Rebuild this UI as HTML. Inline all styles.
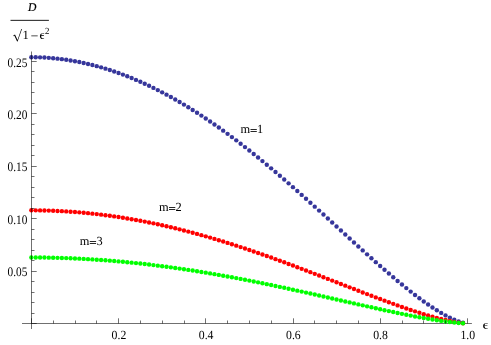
<!DOCTYPE html>
<html><head><meta charset="utf-8"><title>plot</title>
<style>html,body{margin:0;padding:0;background:#fff;overflow:hidden}svg{display:block;will-change:transform}text{font-family:"Liberation Serif",serif;fill:#000;text-rendering:geometricPrecision}</style></head><body>
<svg width="491" height="345" viewBox="0 0 491 345">
<rect width="491" height="345" fill="#fff"/>
<line x1="22" y1="323.5" x2="471.9" y2="323.5" stroke="#000" stroke-opacity="0.56" stroke-width="1"/>
<g fill="#36369b">
<circle cx="31.35" cy="57.20" r="2.2"/>
<circle cx="35.71" cy="57.24" r="2.2"/>
<circle cx="40.07" cy="57.36" r="2.2"/>
<circle cx="44.43" cy="57.56" r="2.2"/>
<circle cx="48.79" cy="57.84" r="2.2"/>
<circle cx="53.15" cy="58.20" r="2.2"/>
<circle cx="57.51" cy="58.64" r="2.2"/>
<circle cx="61.87" cy="59.16" r="2.2"/>
<circle cx="66.23" cy="59.76" r="2.2"/>
<circle cx="70.59" cy="60.43" r="2.2"/>
<circle cx="74.95" cy="61.19" r="2.2"/>
<circle cx="79.31" cy="62.02" r="2.2"/>
<circle cx="83.67" cy="62.93" r="2.2"/>
<circle cx="88.03" cy="63.93" r="2.2"/>
<circle cx="92.39" cy="64.99" r="2.2"/>
<circle cx="96.75" cy="66.14" r="2.2"/>
<circle cx="101.11" cy="67.36" r="2.2"/>
<circle cx="105.47" cy="68.66" r="2.2"/>
<circle cx="109.83" cy="70.04" r="2.2"/>
<circle cx="114.19" cy="71.49" r="2.2"/>
<circle cx="118.55" cy="73.02" r="2.2"/>
<circle cx="122.91" cy="74.62" r="2.2"/>
<circle cx="127.27" cy="76.30" r="2.2"/>
<circle cx="131.63" cy="78.05" r="2.2"/>
<circle cx="135.99" cy="79.88" r="2.2"/>
<circle cx="140.35" cy="81.77" r="2.2"/>
<circle cx="144.71" cy="83.74" r="2.2"/>
<circle cx="149.07" cy="85.79" r="2.2"/>
<circle cx="153.43" cy="87.90" r="2.2"/>
<circle cx="157.79" cy="90.08" r="2.2"/>
<circle cx="162.15" cy="92.33" r="2.2"/>
<circle cx="166.51" cy="94.65" r="2.2"/>
<circle cx="170.87" cy="97.04" r="2.2"/>
<circle cx="175.23" cy="99.50" r="2.2"/>
<circle cx="179.59" cy="102.02" r="2.2"/>
<circle cx="183.95" cy="104.60" r="2.2"/>
<circle cx="188.31" cy="107.26" r="2.2"/>
<circle cx="192.67" cy="109.97" r="2.2"/>
<circle cx="197.03" cy="112.75" r="2.2"/>
<circle cx="201.39" cy="115.59" r="2.2"/>
<circle cx="205.75" cy="118.49" r="2.2"/>
<circle cx="210.11" cy="121.44" r="2.2"/>
<circle cx="214.47" cy="124.46" r="2.2"/>
<circle cx="218.83" cy="127.53" r="2.2"/>
<circle cx="223.19" cy="130.66" r="2.2"/>
<circle cx="227.55" cy="133.85" r="2.2"/>
<circle cx="231.91" cy="137.08" r="2.2"/>
<circle cx="236.27" cy="140.37" r="2.2"/>
<circle cx="240.63" cy="143.71" r="2.2"/>
<circle cx="244.99" cy="147.10" r="2.2"/>
<circle cx="249.35" cy="150.54" r="2.2"/>
<circle cx="253.71" cy="154.02" r="2.2"/>
<circle cx="258.07" cy="157.54" r="2.2"/>
<circle cx="262.43" cy="161.11" r="2.2"/>
<circle cx="266.79" cy="164.72" r="2.2"/>
<circle cx="271.15" cy="168.37" r="2.2"/>
<circle cx="275.51" cy="172.06" r="2.2"/>
<circle cx="279.87" cy="175.79" r="2.2"/>
<circle cx="284.23" cy="179.55" r="2.2"/>
<circle cx="288.59" cy="183.34" r="2.2"/>
<circle cx="292.95" cy="187.16" r="2.2"/>
<circle cx="297.31" cy="191.00" r="2.2"/>
<circle cx="301.67" cy="194.88" r="2.2"/>
<circle cx="306.03" cy="198.78" r="2.2"/>
<circle cx="310.39" cy="202.69" r="2.2"/>
<circle cx="314.75" cy="206.63" r="2.2"/>
<circle cx="319.11" cy="210.59" r="2.2"/>
<circle cx="323.47" cy="214.55" r="2.2"/>
<circle cx="327.83" cy="218.53" r="2.2"/>
<circle cx="332.19" cy="222.52" r="2.2"/>
<circle cx="336.55" cy="226.51" r="2.2"/>
<circle cx="340.91" cy="230.51" r="2.2"/>
<circle cx="345.27" cy="234.50" r="2.2"/>
<circle cx="349.63" cy="238.49" r="2.2"/>
<circle cx="353.99" cy="242.47" r="2.2"/>
<circle cx="358.35" cy="246.44" r="2.2"/>
<circle cx="362.71" cy="250.39" r="2.2"/>
<circle cx="367.07" cy="254.33" r="2.2"/>
<circle cx="371.43" cy="258.24" r="2.2"/>
<circle cx="375.79" cy="262.13" r="2.2"/>
<circle cx="380.15" cy="265.98" r="2.2"/>
<circle cx="384.51" cy="269.80" r="2.2"/>
<circle cx="388.87" cy="273.57" r="2.2"/>
<circle cx="393.23" cy="277.29" r="2.2"/>
<circle cx="397.59" cy="280.96" r="2.2"/>
<circle cx="401.95" cy="284.57" r="2.2"/>
<circle cx="406.31" cy="288.11" r="2.2"/>
<circle cx="410.67" cy="291.58" r="2.2"/>
<circle cx="415.03" cy="294.97" r="2.2"/>
<circle cx="419.39" cy="298.26" r="2.2"/>
<circle cx="423.75" cy="301.45" r="2.2"/>
<circle cx="428.11" cy="304.52" r="2.2"/>
<circle cx="432.47" cy="307.47" r="2.2"/>
<circle cx="436.83" cy="310.28" r="2.2"/>
<circle cx="441.19" cy="312.92" r="2.2"/>
<circle cx="445.55" cy="315.39" r="2.2"/>
<circle cx="449.91" cy="317.65" r="2.2"/>
<circle cx="454.27" cy="319.67" r="2.2"/>
<circle cx="458.63" cy="321.40" r="2.2"/>
<circle cx="462.99" cy="322.75" r="2.2"/>
</g>
<g fill="#ff0000">
<circle cx="31.35" cy="210.32" r="2.2"/>
<circle cx="35.71" cy="210.33" r="2.2"/>
<circle cx="40.07" cy="210.38" r="2.2"/>
<circle cx="44.43" cy="210.47" r="2.2"/>
<circle cx="48.79" cy="210.59" r="2.2"/>
<circle cx="53.15" cy="210.74" r="2.2"/>
<circle cx="57.51" cy="210.93" r="2.2"/>
<circle cx="61.87" cy="211.15" r="2.2"/>
<circle cx="66.23" cy="211.40" r="2.2"/>
<circle cx="70.59" cy="211.69" r="2.2"/>
<circle cx="74.95" cy="212.01" r="2.2"/>
<circle cx="79.31" cy="212.36" r="2.2"/>
<circle cx="83.67" cy="212.75" r="2.2"/>
<circle cx="88.03" cy="213.17" r="2.2"/>
<circle cx="92.39" cy="213.63" r="2.2"/>
<circle cx="96.75" cy="214.11" r="2.2"/>
<circle cx="101.11" cy="214.63" r="2.2"/>
<circle cx="105.47" cy="215.19" r="2.2"/>
<circle cx="109.83" cy="215.77" r="2.2"/>
<circle cx="114.19" cy="216.39" r="2.2"/>
<circle cx="118.55" cy="217.04" r="2.2"/>
<circle cx="122.91" cy="217.72" r="2.2"/>
<circle cx="127.27" cy="218.43" r="2.2"/>
<circle cx="131.63" cy="219.18" r="2.2"/>
<circle cx="135.99" cy="219.95" r="2.2"/>
<circle cx="140.35" cy="220.76" r="2.2"/>
<circle cx="144.71" cy="221.60" r="2.2"/>
<circle cx="149.07" cy="222.46" r="2.2"/>
<circle cx="153.43" cy="223.36" r="2.2"/>
<circle cx="157.79" cy="224.29" r="2.2"/>
<circle cx="162.15" cy="225.25" r="2.2"/>
<circle cx="166.51" cy="226.23" r="2.2"/>
<circle cx="170.87" cy="227.25" r="2.2"/>
<circle cx="175.23" cy="228.29" r="2.2"/>
<circle cx="179.59" cy="229.36" r="2.2"/>
<circle cx="183.95" cy="230.46" r="2.2"/>
<circle cx="188.31" cy="231.59" r="2.2"/>
<circle cx="192.67" cy="232.74" r="2.2"/>
<circle cx="197.03" cy="233.92" r="2.2"/>
<circle cx="201.39" cy="235.13" r="2.2"/>
<circle cx="205.75" cy="236.36" r="2.2"/>
<circle cx="210.11" cy="237.62" r="2.2"/>
<circle cx="214.47" cy="238.90" r="2.2"/>
<circle cx="218.83" cy="240.21" r="2.2"/>
<circle cx="223.19" cy="241.54" r="2.2"/>
<circle cx="227.55" cy="242.89" r="2.2"/>
<circle cx="231.91" cy="244.27" r="2.2"/>
<circle cx="236.27" cy="245.67" r="2.2"/>
<circle cx="240.63" cy="247.08" r="2.2"/>
<circle cx="244.99" cy="248.52" r="2.2"/>
<circle cx="249.35" cy="249.98" r="2.2"/>
<circle cx="253.71" cy="251.46" r="2.2"/>
<circle cx="258.07" cy="252.96" r="2.2"/>
<circle cx="262.43" cy="254.48" r="2.2"/>
<circle cx="266.79" cy="256.02" r="2.2"/>
<circle cx="271.15" cy="257.57" r="2.2"/>
<circle cx="275.51" cy="259.13" r="2.2"/>
<circle cx="279.87" cy="260.72" r="2.2"/>
<circle cx="284.23" cy="262.32" r="2.2"/>
<circle cx="288.59" cy="263.93" r="2.2"/>
<circle cx="292.95" cy="265.55" r="2.2"/>
<circle cx="297.31" cy="267.19" r="2.2"/>
<circle cx="301.67" cy="268.83" r="2.2"/>
<circle cx="306.03" cy="270.49" r="2.2"/>
<circle cx="310.39" cy="272.15" r="2.2"/>
<circle cx="314.75" cy="273.83" r="2.2"/>
<circle cx="319.11" cy="275.51" r="2.2"/>
<circle cx="323.47" cy="277.19" r="2.2"/>
<circle cx="327.83" cy="278.89" r="2.2"/>
<circle cx="332.19" cy="280.58" r="2.2"/>
<circle cx="336.55" cy="282.28" r="2.2"/>
<circle cx="340.91" cy="283.97" r="2.2"/>
<circle cx="345.27" cy="285.67" r="2.2"/>
<circle cx="349.63" cy="287.37" r="2.2"/>
<circle cx="353.99" cy="289.06" r="2.2"/>
<circle cx="358.35" cy="290.75" r="2.2"/>
<circle cx="362.71" cy="292.43" r="2.2"/>
<circle cx="367.07" cy="294.10" r="2.2"/>
<circle cx="371.43" cy="295.76" r="2.2"/>
<circle cx="375.79" cy="297.41" r="2.2"/>
<circle cx="380.15" cy="299.05" r="2.2"/>
<circle cx="384.51" cy="300.67" r="2.2"/>
<circle cx="388.87" cy="302.28" r="2.2"/>
<circle cx="393.23" cy="303.86" r="2.2"/>
<circle cx="397.59" cy="305.42" r="2.2"/>
<circle cx="401.95" cy="306.95" r="2.2"/>
<circle cx="406.31" cy="308.46" r="2.2"/>
<circle cx="410.67" cy="309.93" r="2.2"/>
<circle cx="415.03" cy="311.37" r="2.2"/>
<circle cx="419.39" cy="312.77" r="2.2"/>
<circle cx="423.75" cy="314.13" r="2.2"/>
<circle cx="428.11" cy="315.43" r="2.2"/>
<circle cx="432.47" cy="316.69" r="2.2"/>
<circle cx="436.83" cy="317.88" r="2.2"/>
<circle cx="441.19" cy="319.01" r="2.2"/>
<circle cx="445.55" cy="320.05" r="2.2"/>
<circle cx="449.91" cy="321.02" r="2.2"/>
<circle cx="454.27" cy="321.87" r="2.2"/>
<circle cx="458.63" cy="322.61" r="2.2"/>
<circle cx="462.99" cy="323.18" r="2.2"/>
</g>
<g fill="#00ff00">
<circle cx="31.35" cy="257.48" r="2.2"/>
<circle cx="35.71" cy="257.49" r="2.2"/>
<circle cx="40.07" cy="257.52" r="2.2"/>
<circle cx="44.43" cy="257.57" r="2.2"/>
<circle cx="48.79" cy="257.63" r="2.2"/>
<circle cx="53.15" cy="257.72" r="2.2"/>
<circle cx="57.51" cy="257.83" r="2.2"/>
<circle cx="61.87" cy="257.96" r="2.2"/>
<circle cx="66.23" cy="258.11" r="2.2"/>
<circle cx="70.59" cy="258.28" r="2.2"/>
<circle cx="74.95" cy="258.46" r="2.2"/>
<circle cx="79.31" cy="258.67" r="2.2"/>
<circle cx="83.67" cy="258.90" r="2.2"/>
<circle cx="88.03" cy="259.14" r="2.2"/>
<circle cx="92.39" cy="259.41" r="2.2"/>
<circle cx="96.75" cy="259.69" r="2.2"/>
<circle cx="101.11" cy="260.00" r="2.2"/>
<circle cx="105.47" cy="260.32" r="2.2"/>
<circle cx="109.83" cy="260.66" r="2.2"/>
<circle cx="114.19" cy="261.02" r="2.2"/>
<circle cx="118.55" cy="261.40" r="2.2"/>
<circle cx="122.91" cy="261.79" r="2.2"/>
<circle cx="127.27" cy="262.21" r="2.2"/>
<circle cx="131.63" cy="262.65" r="2.2"/>
<circle cx="135.99" cy="263.10" r="2.2"/>
<circle cx="140.35" cy="263.57" r="2.2"/>
<circle cx="144.71" cy="264.06" r="2.2"/>
<circle cx="149.07" cy="264.56" r="2.2"/>
<circle cx="153.43" cy="265.09" r="2.2"/>
<circle cx="157.79" cy="265.63" r="2.2"/>
<circle cx="162.15" cy="266.19" r="2.2"/>
<circle cx="166.51" cy="266.76" r="2.2"/>
<circle cx="170.87" cy="267.35" r="2.2"/>
<circle cx="175.23" cy="267.96" r="2.2"/>
<circle cx="179.59" cy="268.59" r="2.2"/>
<circle cx="183.95" cy="269.23" r="2.2"/>
<circle cx="188.31" cy="269.89" r="2.2"/>
<circle cx="192.67" cy="270.56" r="2.2"/>
<circle cx="197.03" cy="271.25" r="2.2"/>
<circle cx="201.39" cy="271.95" r="2.2"/>
<circle cx="205.75" cy="272.67" r="2.2"/>
<circle cx="210.11" cy="273.40" r="2.2"/>
<circle cx="214.47" cy="274.15" r="2.2"/>
<circle cx="218.83" cy="274.91" r="2.2"/>
<circle cx="223.19" cy="275.69" r="2.2"/>
<circle cx="227.55" cy="276.48" r="2.2"/>
<circle cx="231.91" cy="277.28" r="2.2"/>
<circle cx="236.27" cy="278.10" r="2.2"/>
<circle cx="240.63" cy="278.92" r="2.2"/>
<circle cx="244.99" cy="279.76" r="2.2"/>
<circle cx="249.35" cy="280.62" r="2.2"/>
<circle cx="253.71" cy="281.48" r="2.2"/>
<circle cx="258.07" cy="282.35" r="2.2"/>
<circle cx="262.43" cy="283.24" r="2.2"/>
<circle cx="266.79" cy="284.13" r="2.2"/>
<circle cx="271.15" cy="285.04" r="2.2"/>
<circle cx="275.51" cy="285.95" r="2.2"/>
<circle cx="279.87" cy="286.88" r="2.2"/>
<circle cx="284.23" cy="287.81" r="2.2"/>
<circle cx="288.59" cy="288.75" r="2.2"/>
<circle cx="292.95" cy="289.70" r="2.2"/>
<circle cx="297.31" cy="290.65" r="2.2"/>
<circle cx="301.67" cy="291.61" r="2.2"/>
<circle cx="306.03" cy="292.58" r="2.2"/>
<circle cx="310.39" cy="293.55" r="2.2"/>
<circle cx="314.75" cy="294.52" r="2.2"/>
<circle cx="319.11" cy="295.50" r="2.2"/>
<circle cx="323.47" cy="296.49" r="2.2"/>
<circle cx="327.83" cy="297.48" r="2.2"/>
<circle cx="332.19" cy="298.46" r="2.2"/>
<circle cx="336.55" cy="299.45" r="2.2"/>
<circle cx="340.91" cy="300.44" r="2.2"/>
<circle cx="345.27" cy="301.43" r="2.2"/>
<circle cx="349.63" cy="302.42" r="2.2"/>
<circle cx="353.99" cy="303.41" r="2.2"/>
<circle cx="358.35" cy="304.39" r="2.2"/>
<circle cx="362.71" cy="305.37" r="2.2"/>
<circle cx="367.07" cy="306.35" r="2.2"/>
<circle cx="371.43" cy="307.32" r="2.2"/>
<circle cx="375.79" cy="308.28" r="2.2"/>
<circle cx="380.15" cy="309.24" r="2.2"/>
<circle cx="384.51" cy="310.18" r="2.2"/>
<circle cx="388.87" cy="311.12" r="2.2"/>
<circle cx="393.23" cy="312.04" r="2.2"/>
<circle cx="397.59" cy="312.95" r="2.2"/>
<circle cx="401.95" cy="313.85" r="2.2"/>
<circle cx="406.31" cy="314.73" r="2.2"/>
<circle cx="410.67" cy="315.59" r="2.2"/>
<circle cx="415.03" cy="316.43" r="2.2"/>
<circle cx="419.39" cy="317.24" r="2.2"/>
<circle cx="423.75" cy="318.03" r="2.2"/>
<circle cx="428.11" cy="318.79" r="2.2"/>
<circle cx="432.47" cy="319.53" r="2.2"/>
<circle cx="436.83" cy="320.22" r="2.2"/>
<circle cx="441.19" cy="320.88" r="2.2"/>
<circle cx="445.55" cy="321.49" r="2.2"/>
<circle cx="449.91" cy="322.05" r="2.2"/>
<circle cx="454.27" cy="322.55" r="2.2"/>
<circle cx="458.63" cy="322.98" r="2.2"/>
<circle cx="462.99" cy="323.31" r="2.2"/>
</g>
<g stroke="#000" stroke-opacity="0.56" stroke-width="1" fill="none">
<line x1="31.5" y1="51.5" x2="31.5" y2="329"/>
<line x1="31.5" y1="323.5" x2="31.5" y2="318.3"/>
<line x1="53.5" y1="323.5" x2="53.5" y2="320.5"/>
<line x1="75.5" y1="323.5" x2="75.5" y2="320.5"/>
<line x1="96.5" y1="323.5" x2="96.5" y2="320.5"/>
<line x1="118.5" y1="323.5" x2="118.5" y2="318.3"/>
<line x1="140.5" y1="323.5" x2="140.5" y2="320.5"/>
<line x1="162.5" y1="323.5" x2="162.5" y2="320.5"/>
<line x1="184.5" y1="323.5" x2="184.5" y2="320.5"/>
<line x1="205.5" y1="323.5" x2="205.5" y2="318.3"/>
<line x1="227.5" y1="323.5" x2="227.5" y2="320.5"/>
<line x1="249.5" y1="323.5" x2="249.5" y2="320.5"/>
<line x1="271.5" y1="323.5" x2="271.5" y2="320.5"/>
<line x1="293.5" y1="323.5" x2="293.5" y2="318.3"/>
<line x1="314.5" y1="323.5" x2="314.5" y2="320.5"/>
<line x1="336.5" y1="323.5" x2="336.5" y2="320.5"/>
<line x1="358.5" y1="323.5" x2="358.5" y2="320.5"/>
<line x1="380.5" y1="323.5" x2="380.5" y2="318.3"/>
<line x1="402.5" y1="323.5" x2="402.5" y2="320.5"/>
<line x1="423.5" y1="323.5" x2="423.5" y2="320.5"/>
<line x1="445.5" y1="323.5" x2="445.5" y2="320.5"/>
<line x1="467.5" y1="323.5" x2="467.5" y2="318.3"/>
<line x1="31.5" y1="323.5" x2="36.7" y2="323.5"/>
<line x1="31.5" y1="313.5" x2="34.5" y2="313.5"/>
<line x1="31.5" y1="302.5" x2="34.5" y2="302.5"/>
<line x1="31.5" y1="292.5" x2="34.5" y2="292.5"/>
<line x1="31.5" y1="281.5" x2="34.5" y2="281.5"/>
<line x1="31.5" y1="271.5" x2="36.7" y2="271.5"/>
<line x1="31.5" y1="260.5" x2="34.5" y2="260.5"/>
<line x1="31.5" y1="250.5" x2="34.5" y2="250.5"/>
<line x1="31.5" y1="239.5" x2="34.5" y2="239.5"/>
<line x1="31.5" y1="229.5" x2="34.5" y2="229.5"/>
<line x1="31.5" y1="218.5" x2="36.7" y2="218.5"/>
<line x1="31.5" y1="208.5" x2="34.5" y2="208.5"/>
<line x1="31.5" y1="197.5" x2="34.5" y2="197.5"/>
<line x1="31.5" y1="187.5" x2="34.5" y2="187.5"/>
<line x1="31.5" y1="176.5" x2="34.5" y2="176.5"/>
<line x1="31.5" y1="166.5" x2="36.7" y2="166.5"/>
<line x1="31.5" y1="155.5" x2="34.5" y2="155.5"/>
<line x1="31.5" y1="145.5" x2="34.5" y2="145.5"/>
<line x1="31.5" y1="134.5" x2="34.5" y2="134.5"/>
<line x1="31.5" y1="124.5" x2="34.5" y2="124.5"/>
<line x1="31.5" y1="113.5" x2="36.7" y2="113.5"/>
<line x1="31.5" y1="103.5" x2="34.5" y2="103.5"/>
<line x1="31.5" y1="92.5" x2="34.5" y2="92.5"/>
<line x1="31.5" y1="82.5" x2="34.5" y2="82.5"/>
<line x1="31.5" y1="71.5" x2="34.5" y2="71.5"/>
<line x1="31.5" y1="61.5" x2="36.7" y2="61.5"/>
</g>
<text x="7.5" y="276.25" font-size="13" textLength="19.8" lengthAdjust="spacingAndGlyphs">0.05</text>
<text x="7.5" y="223.85" font-size="13" textLength="19.8" lengthAdjust="spacingAndGlyphs">0.10</text>
<text x="7.5" y="171.45" font-size="13" textLength="19.8" lengthAdjust="spacingAndGlyphs">0.15</text>
<text x="7.5" y="119.05" font-size="13" textLength="19.8" lengthAdjust="spacingAndGlyphs">0.20</text>
<text x="7.5" y="66.65" font-size="13" textLength="19.8" lengthAdjust="spacingAndGlyphs">0.25</text>
<text x="111.6" y="338.5" font-size="12.5" textLength="14.7" lengthAdjust="spacingAndGlyphs">0.2</text>
<text x="198.8" y="338.5" font-size="12.5" textLength="14.7" lengthAdjust="spacingAndGlyphs">0.4</text>
<text x="286.0" y="338.5" font-size="12.5" textLength="14.7" lengthAdjust="spacingAndGlyphs">0.6</text>
<text x="373.2" y="338.5" font-size="12.5" textLength="14.7" lengthAdjust="spacingAndGlyphs">0.8</text>
<text x="460.4" y="338.5" font-size="12.5" textLength="14.7" lengthAdjust="spacingAndGlyphs">1.0</text>
<text x="240.5" y="132.8" font-size="12.4">m</text>
<path d="M250.50 129.5h6.3M250.50 131.5h6.3" stroke="#000" stroke-width="0.85" fill="none"/>
<text x="257.10" y="132.8" font-size="12.4">1</text>
<text x="159.0" y="211.3" font-size="12.4">m</text>
<path d="M169.00 207.5h6.3M169.00 209.5h6.3" stroke="#000" stroke-width="0.85" fill="none"/>
<text x="175.60" y="211.3" font-size="12.4">2</text>
<text x="79.8" y="245.3" font-size="12.4">m</text>
<path d="M89.80 241.5h6.3M89.80 243.5h6.3" stroke="#000" stroke-width="0.85" fill="none"/>
<text x="96.40" y="245.3" font-size="12.4">3</text>
<path d="M4.7 -2.75C3.4 -3.35 0 -3.2 0 0C0 3.2 3.3 3.4 4.6 2.65L4.4 2.2C3.2 2.75 1.45 2.6 1.4 -0.15L4.3 -0.15L4.3 -0.85L1.45 -0.85C1.7 -2.7 3.4 -2.75 4.5 -2.25Z" transform="translate(483.1 326.0)" fill="#000"/>
<text x="27.9" y="10.9" font-size="11.8" textLength="8.4" lengthAdjust="spacingAndGlyphs" font-style="italic" stroke="#000" stroke-width="0.2">D</text>
<line x1="10.5" y1="20.35" x2="48.9" y2="20.35" stroke="#000" stroke-width="0.9"/>
<path d="M13.3 35.5 L15.0 34.4 L17.55 39.9 L21.3 29.0 L22.0 29.0 L17.6 41.5 L17.1 41.5 L14.4 35.7 L13.5 36.2 Z" fill="#000" stroke="none"/>
<text x="22.6" y="38.9" font-size="12.6">1</text>
<line x1="31.3" y1="35.85" x2="37.7" y2="35.85" stroke="#000" stroke-width="0.7"/>
<path d="M4.7 -2.75C3.4 -3.35 0 -3.2 0 0C0 3.2 3.3 3.4 4.6 2.65L4.4 2.2C3.2 2.75 1.45 2.6 1.4 -0.15L4.3 -0.15L4.3 -0.85L1.45 -0.85C1.7 -2.7 3.4 -2.75 4.5 -2.25Z" transform="translate(39.9 36.15) scale(0.93 0.95)" fill="#000"/>
<text x="45.0" y="34.45" font-size="9.3" textLength="4.4" lengthAdjust="spacingAndGlyphs">2</text>
</svg></body></html>
